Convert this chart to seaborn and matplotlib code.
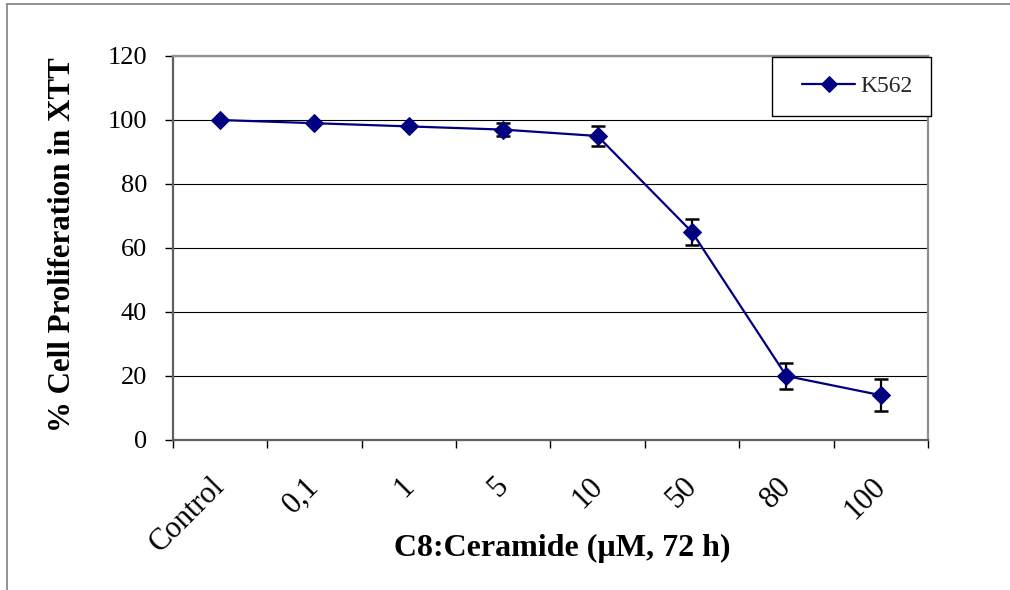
import numpy as np
import matplotlib
matplotlib.use("Agg")
import matplotlib.pyplot as plt
import matplotlib.transforms as mtransforms
from matplotlib.lines import Line2D
from matplotlib.legend_handler import HandlerLine2D
from matplotlib.ticker import FixedLocator, NullFormatter, FixedFormatter
import seaborn as sns

# Dose-response data for K562 cells (XTT assay, 72 h)
categories = ["Control", "0,1", "1", "5", "10", "50", "80", "100"]
proliferation = [100, 99, 98, 97, 95, 65, 20, 14]
std_error = [0, 0, 0, 2, 3, 4, 4, 5]
series_name = "K562"
y_ticks = [0, 20, 40, 60, 80, 100, 120]

sns.set_theme(style="white")
plt.rcParams["font.family"] = ["Liberation Serif", "DejaVu Serif"]

W, H, DPI = 1010, 590, 100
fig = plt.figure(figsize=(W / DPI, H / DPI), dpi=DPI)
fig.patch.set_facecolor("white")

left_px, right_px, top_px, bottom_px = 172.7, 928, 56, 440
ax = fig.add_axes([left_px / W, 1 - bottom_px / H,
                   (right_px - left_px) / W, (bottom_px - top_px) / H])
ax.set_facecolor("white")

x = np.arange(len(categories))
y = np.array(proliferation, dtype=float)
err = np.array(std_error, dtype=float)

navy = "#000080"

# error bars (only where a spread was measured)
has_err = err > 0
ax.errorbar(x[has_err], y[has_err], yerr=err[has_err], fmt="none",
            ecolor="black", elinewidth=1.6, capsize=4.7, capthick=1.8,
            zorder=3)

sns.lineplot(x=x, y=y, ax=ax, color=navy, linewidth=1.6, marker="D",
             markersize=9, markeredgecolor=navy, markerfacecolor=navy,
             label=series_name, zorder=4)

ax.set_xlim(-0.5, len(categories) - 0.5)
ax.set_ylim(0, 120)

# y axis
ax.yaxis.set_major_locator(FixedLocator(y_ticks))
ax.set_yticklabels([str(t) for t in y_ticks])
ax.tick_params(axis="y", which="major", direction="out", length=5.5,
               width=1.0, color="black", pad=13, labelsize=19,
               labelcolor="black", left=True)
ax.yaxis.grid(True, color="black", linewidth=0.8)
ax.xaxis.grid(False)
ax.set_axisbelow(True)

# x axis: tick marks on category boundaries, labels centred on categories
ax.xaxis.set_major_locator(FixedLocator(np.arange(-0.5, len(categories), 1.0)))
ax.xaxis.set_major_formatter(NullFormatter())
ax.xaxis.set_minor_locator(FixedLocator(x))
ax.xaxis.set_minor_formatter(FixedFormatter(categories))
ax.tick_params(axis="x", which="major", direction="out", length=6,
               width=1.0, color="black", bottom=True)
ax.tick_params(axis="x", which="minor", length=0, pad=23, labelsize=22,
               labelcolor="black", bottom=True)
shift = mtransforms.ScaledTranslation(11 / DPI, 0, fig.dpi_scale_trans)
for lbl in ax.xaxis.get_minorticklabels():
    lbl.set_rotation(45)
    lbl.set_ha("right")
    lbl.set_va("top")
    lbl.set_transform(lbl.get_transform() + shift)

# spines
for side in ["left", "bottom"]:
    ax.spines[side].set_color("#606060")
    ax.spines[side].set_linewidth(1.6)
for side in ["top", "right"]:
    ax.spines[side].set_color("#909090")
    ax.spines[side].set_linewidth(1.6)

# axis titles
ax.set_ylabel("% Cell Proliferation in XTT", fontsize=22.3, fontweight="bold",
              color="black")
ax.yaxis.set_label_coords((77 - left_px) / (right_px - left_px), 0.51)
ax.set_xlabel("C8:Ceramide (\u00b5M, 72 h)", fontsize=23, fontweight="bold",
              color="black")
ax.xaxis.set_label_coords((562 - left_px) / (right_px - left_px),
                          (bottom_px - 534) / (bottom_px - top_px))

# legend
leg = ax.legend(loc="upper left", bbox_to_anchor=(772 / W, 1 - 57 / H),
                bbox_transform=fig.transFigure, frameon=True, fancybox=False,
                shadow=False, framealpha=1, edgecolor="black",
                prop={"family": "Liberation Serif", "size": 17},
                handlelength=2.72, handletextpad=0.22, borderpad=0.8,
                borderaxespad=0, markerscale=0.85,
                handler_map={Line2D: HandlerLine2D(xpad=0.47)})
leg.get_frame().set_linewidth(1.0)

# chart area border (top and left edges)
fig.add_artist(Line2D([6.5 / W, 1.0], [1 - 4 / H, 1 - 4 / H],
                      transform=fig.transFigure, color="#808080", lw=1.2))
fig.add_artist(Line2D([6.5 / W, 6.5 / W], [0, 1 - 4 / H],
                      transform=fig.transFigure, color="#808080", lw=1.2))

fig.savefig("out.png", dpi=DPI, facecolor="white")
